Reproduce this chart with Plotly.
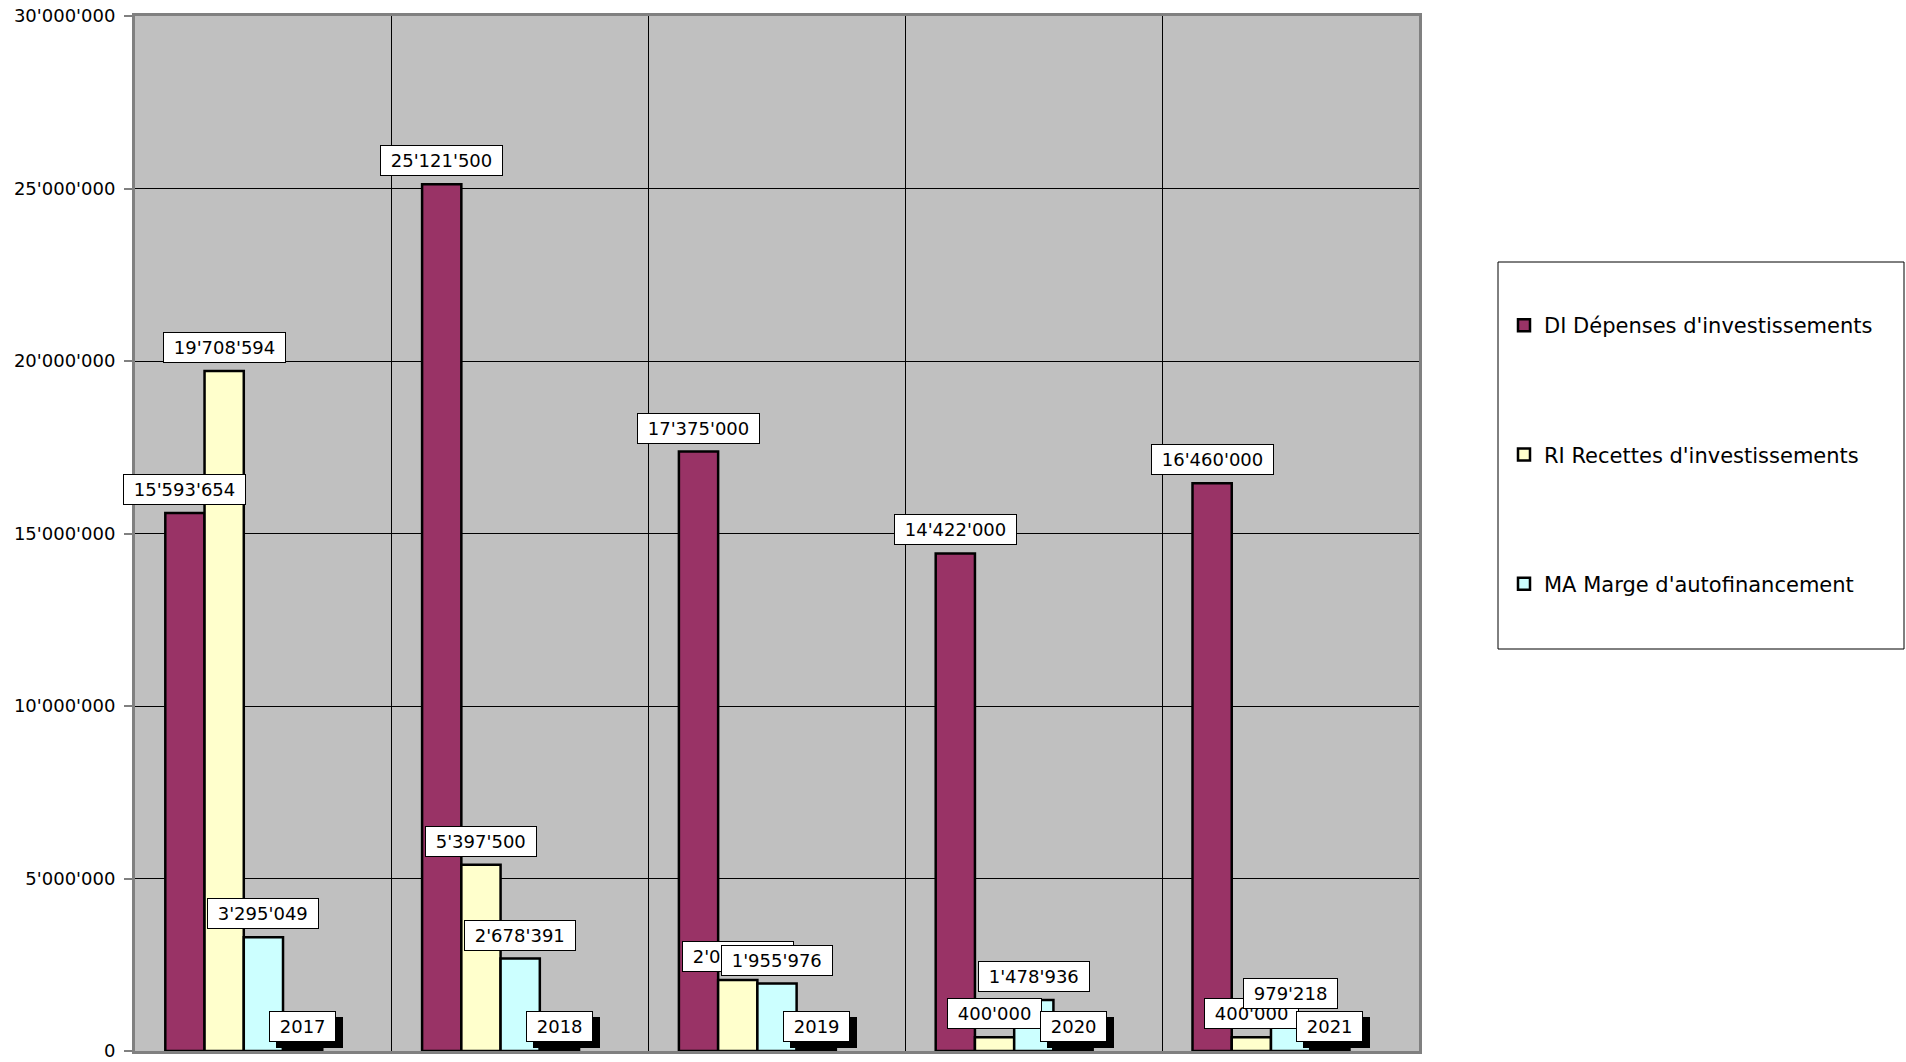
import plotly.graph_objects as go

years = ["2017", "2018", "2019", "2020", "2021"]
di_name = "DI Dépenses d'investissements"
ri_name = "RI Recettes d'investissements"
ma_name = "MA Marge d'autofinancement"
di_values = [15593654, 25121500, 17375000, 14422000, 16460000]
ri_values = [19708594, 5397500, 2055000, 400000, 400000]
ma_values = [3295049, 2678391, 1955976, 1478936, 979218]
year_marker_values = [270000, 270000, 270000, 270000, 270000]
y_ticks = [0, 5000000, 10000000, 15000000, 20000000, 25000000, 30000000]

W, H = 1906, 1062
ML, MR, MT, MB = 135, 487, 16, 11
BARGAP = 0.236
NSLOTS = 5

FONT = "DejaVu Sans"

plot_w = W - ML - MR
plot_h = H - MT - MB


def px2paper_x(px):
    return (px - ML) / plot_w


def px2paper_y(py):
    return (H - MB - py) / plot_h


fig = go.Figure()
series = [
    (di_name, di_values, "#993366", True),
    (ri_name, ri_values, "#FFFFCC", True),
    (ma_name, ma_values, "#CCFFFF", True),
    ("Année", year_marker_values, "#000000", False),
    ("vide", [None] * len(years), "#000000", False),
]
for i, (name, vals, col, show) in enumerate(series):
    fig.add_trace(go.Bar(
        x=years, y=vals, name=name, marker_color=col,
        marker_line_color="#000000", marker_line_width=2.5,
        showlegend=show, legendgroup=name,
    ))

catw = plot_w / len(years)
barw = (1 - BARGAP) * catw / NSLOTS


def fmt(v):
    return f"{v:,}".replace(",", "'")


ann = []
nb = "\u00a0"
for i, vals in enumerate([di_values, ri_values, ma_values]):
    xs = (i - (NSLOTS - 1) / 2) * barw
    for k, v in enumerate(vals):
        ann.append(dict(
            x=k, y=v, xref="x", yref="y", xshift=xs, yshift=8,
            yanchor="bottom", xanchor="center", showarrow=False,
            text=nb + fmt(v) + nb, bgcolor="#FFFFFF", bordercolor="#000000",
            borderwidth=1, borderpad=4,
            font=dict(family=FONT, size=18, color="#000000"),
        ))

xs = (3 - (NSLOTS - 1) / 2) * barw
for k, (yr, v) in enumerate(zip(years, year_marker_values)):
    # drop shadow box (blank text of the same width)
    ann.append(dict(
        x=k, y=v, xref="x", yref="y", xshift=xs + 7, yshift=-6,
        yanchor="bottom", xanchor="center", showarrow=False,
        text=nb + "\u2007" * len(yr) + nb, bgcolor="#000000", bordercolor="#000000",
        borderwidth=1, borderpad=4,
        font=dict(family=FONT, size=18, color="#000000"),
    ))
    ann.append(dict(
        x=k, y=v, xref="x", yref="y", xshift=xs, yshift=0,
        yanchor="bottom", xanchor="center", showarrow=False,
        text=nb + yr + nb, bgcolor="#FFFFFF", bordercolor="#000000",
        borderwidth=1, borderpad=4,
        font=dict(family=FONT, size=18, color="#000000"),
    ))

fig.update_layout(
    width=W, height=H,
    margin=dict(l=ML, r=MR, t=MT, b=MB, autoexpand=False),
    paper_bgcolor="#FFFFFF", plot_bgcolor="#C0C0C0",
    barmode="group", bargap=BARGAP, bargroupgap=0,
    separators=".'",
    font=dict(family=FONT, size=18, color="#000000"),
    annotations=ann,
    showlegend=True,
    legend=dict(
        x=px2paper_x(1524 - 20), y=px2paper_y(305), xanchor="left", yanchor="top",
        bgcolor="rgba(0,0,0,0)", borderwidth=0,
        font=dict(family=FONT, size=21, color="#000000"),
        tracegroupgap=99, traceorder="grouped",
        itemwidth=30,
    ),
    shapes=[dict(
        type="rect", xref="paper", yref="paper",
        x0=px2paper_x(1498), x1=px2paper_x(1904),
        y0=px2paper_y(649), y1=px2paper_y(262),
        line=dict(color="#000000", width=1), fillcolor="#FFFFFF", layer="below",
    )],
)

fig.update_xaxes(
    type="category", range=[-0.5, len(years) - 0.5],
    showticklabels=False, tickson="boundaries",
    showgrid=True, gridcolor="#000000", gridwidth=1,
    showline=True, linecolor="#808080", linewidth=3, mirror=True,
    ticks="", zeroline=False,
)
fig.update_yaxes(
    range=[0, 30000000], tickvals=y_ticks, tickformat=",d",
    showgrid=True, gridcolor="#000000", gridwidth=1,
    showline=True, linecolor="#808080", linewidth=3, mirror=True,
    ticks="outside", ticklen=8, tickcolor="#808080", tickwidth=2,
    ticklabelstandoff=5, zeroline=False,
    tickfont=dict(family=FONT, size=18, color="#000000"),
)

fig.write_html("out.html")
